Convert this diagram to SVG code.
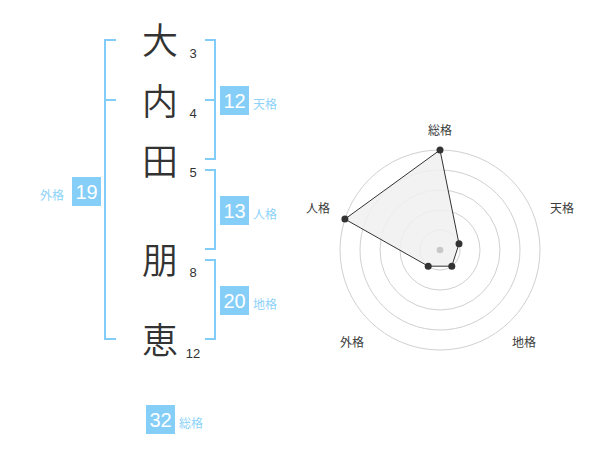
<svg xmlns="http://www.w3.org/2000/svg" width="600" height="470" viewBox="0 0 600 470">
<style>
.kanji{font-family:"Noto Sans CJK JP",sans-serif;font-size:36px;font-weight:350;fill:#333;text-anchor:middle}
.num{font-family:"Liberation Sans","Noto Sans CJK JP",sans-serif;font-size:13px;fill:#333;text-anchor:middle}
.br{fill:none;stroke:#82cdf7;stroke-width:2}
.box{fill:#84cef8}
.boxt{font-family:"Liberation Sans",sans-serif;font-size:20px;fill:#fff;text-anchor:middle}
.lab{font-family:"Liberation Sans","Noto Sans CJK JP",sans-serif;font-size:12px;fill:#8dd2f7}
.rl{font-family:"Liberation Sans","Noto Sans CJK JP",sans-serif;font-size:12px;fill:#3c3c3c;text-anchor:middle}
.ring{fill:none;stroke:#d0d0d0;stroke-width:1}
.pt{fill:#333}
</style>
<rect width="600" height="470" fill="#fff"/>
<g id="name">
<g id="c1"><text class="kanji" x="160" y="53.5">大</text><text class="num" x="193" y="57.5">3</text></g>
<g id="c2"><text class="kanji" x="160" y="114.5">内</text><text class="num" x="193" y="117.5">4</text></g>
<g id="c3"><text class="kanji" x="160" y="174.5">田</text><text class="num" x="193" y="177">5</text></g>
<g id="c4"><text class="kanji" x="160" y="273.5">朋</text><text class="num" x="193" y="277">8</text></g>
<g id="c5"><text class="kanji" x="160" y="353.5">恵</text><text class="num" x="193" y="357.5">12</text></g>
</g>
<g id="connectors">
<path class="br" d="M116,40 H105 V339 H116 M105,100 H116"/>
<path class="br" d="M205,40 H215 V159 H205 M215,100 H205"/>
<path class="br" d="M205,170 H215 V249 H205"/>
<path class="br" d="M205,260 H215 V339 H205"/>
</g>
<g id="tenkaku"><rect class="box" x="220" y="86" width="29" height="29"/><text class="boxt" x="234.5" y="108.3">12</text><text class="lab" x="253" y="108.5">天格</text></g>
<g id="jinkaku"><rect class="box" x="220" y="196" width="29" height="29"/><text class="boxt" x="234.5" y="218.3">13</text><text class="lab" x="253" y="218.5">人格</text></g>
<g id="chikaku"><rect class="box" x="220" y="286" width="29" height="29"/><text class="boxt" x="234.5" y="308.3">20</text><text class="lab" x="253" y="308.5">地格</text></g>
<g id="gaikaku"><rect class="box" x="72" y="177" width="29" height="29"/><text class="boxt" x="86.5" y="199.3">19</text><text class="lab" x="40" y="199.5">外格</text></g>
<g id="soukaku"><rect class="box" x="146" y="405" width="29" height="29"/><text class="boxt" x="160.5" y="427.3">32</text><text class="lab" x="179" y="427.5">総格</text></g>
<g id="radar">
<circle class="ring" cx="440" cy="250" r="20"/>
<circle class="ring" cx="440" cy="250" r="40"/>
<circle class="ring" cx="440" cy="250" r="60"/>
<circle class="ring" cx="440" cy="250" r="80"/>
<circle class="ring" cx="440" cy="250" r="100"/>
<polygon points="440,150 459,243.8 451.8,266.2 428.2,266.2 344.9,219.1" fill="#f0f0f0" fill-opacity="0.85" stroke="#333" stroke-width="1"/>
<circle cx="440" cy="250" r="3.3" fill="#c8c8c8"/>
<circle class="pt" cx="440" cy="150" r="3.5"/>
<circle class="pt" cx="459" cy="243.8" r="3.5"/>
<circle class="pt" cx="451.8" cy="266.2" r="3.5"/>
<circle class="pt" cx="428.2" cy="266.2" r="3.5"/>
<circle class="pt" cx="344.9" cy="219.1" r="3.5"/>
<text class="rl" x="440" y="135">総格</text>
<text class="rl" x="562" y="213">天格</text>
<text class="rl" x="524" y="347">地格</text>
<text class="rl" x="352" y="347">外格</text>
<text class="rl" x="318" y="213">人格</text>
</g>
</svg>
